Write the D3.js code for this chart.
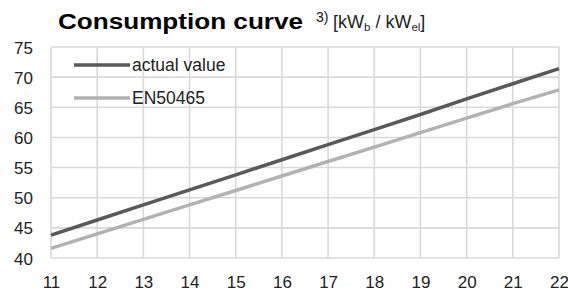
<!doctype html>
<html lang="en">
<head>
<meta charset="UTF-8">
<title>Consumption curve</title>
<style>
  body { margin: 0; background: #fff; }
  svg { display: block; font-family: "Liberation Sans", Arial, sans-serif; }
</style>
</head>
<body>
<svg></svg>
<script src="https://d3js.org/d3.v7.min.js"></script>
<script>
const categories = [11, 12, 13, 14, 15, 16, 17, 18, 19, 20, 21, 22];
const actualValue = [43.8, 46.3, 48.8, 51.3, 53.8, 56.3, 58.8, 61.3, 63.8, 66.4, 68.9, 71.4];
const en50465 = [41.6, 44.0, 46.4, 48.8, 51.2, 53.6, 56.0, 58.4, 60.8, 63.2, 65.6, 67.9];
const yTicks = [40, 45, 50, 55, 60, 65, 70, 75];
const seriesNames = ["actual value", "EN50465"];

const width = 568, height = 291;
const margin = { top: 47, right: 9, bottom: 33, left: 51 };

const svg = d3.select("svg").attr("width", width).attr("height", height);

const x = d3.scaleLinear()
  .domain([categories[0], categories[categories.length - 1]])
  .range([margin.left, width - margin.right]);
const y = d3.scaleLinear()
  .domain([40, 75])
  .range([height - margin.bottom, margin.top]);

// grid
const grid = svg.append("g").attr("stroke", "#d9d9d9").attr("stroke-width", 1.6);
grid.selectAll(".v").data(categories).enter().append("line")
  .attr("x1", d => x(d)).attr("x2", d => x(d))
  .attr("y1", y(75)).attr("y2", y(40));
grid.selectAll(".h").data(yTicks).enter().append("line")
  .attr("x1", x(11)).attr("x2", x(22))
  .attr("y1", d => y(d)).attr("y2", d => y(d));

// axes
const xAxis = svg.append("g")
  .attr("transform", `translate(0,${height - margin.bottom})`)
  .call(d3.axisBottom(x).tickValues(categories).tickSize(0));
const yAxis = svg.append("g")
  .attr("transform", `translate(${margin.left},0)`)
  .call(d3.axisLeft(y).tickValues(yTicks).tickSize(0).tickPadding(18));
[xAxis, yAxis].forEach(a => {
  a.select(".domain").remove();
  a.selectAll("text").attr("font-size", 17).attr("fill", "#222")
    .attr("font-family", "'Liberation Sans', Arial, sans-serif");
});
xAxis.selectAll("text").attr("y", 29.5).attr("dy", 0);
yAxis.selectAll("text").attr("dy", "0.36em");

// lines
const line = vals => d3.line()
  .x((d, i) => x(categories[i]))
  .y(d => y(d))(vals);

svg.append("path").attr("d", line(en50465))
  .attr("fill", "none").attr("stroke", "#b2b2b2").attr("stroke-width", 3.5);
svg.append("path").attr("d", line(actualValue))
  .attr("fill", "none").attr("stroke", "#595959").attr("stroke-width", 3.5);

// legend
const legend = svg.append("g");
const legendColors = ["#595959", "#b2b2b2"];
seriesNames.forEach((name, i) => {
  const ly = 65 + i * 33;
  legend.append("line")
    .attr("x1", 74).attr("x2", 130).attr("y1", ly).attr("y2", ly)
    .attr("stroke", legendColors[i]).attr("stroke-width", 3.5);
  legend.append("text")
    .attr("x", 132).attr("y", ly).attr("dy", "0.36em")
    .attr("font-size", 17.5).attr("fill", "#222").text(name);
});

// title
svg.append("text").attr("x", 58).attr("y", 28.5)
  .attr("font-size", 22).attr("font-weight", "bold").attr("fill", "#000")
  .attr("textLength", 245).attr("lengthAdjust", "spacingAndGlyphs")
  .text("Consumption curve");
svg.append("text").attr("x", 316).attr("y", 22)
  .attr("font-size", 14).attr("fill", "#111").text("3)");
const unit = svg.append("text").attr("x", 333).attr("y", 27.5)
  .attr("font-size", 18).attr("fill", "#222");
unit.append("tspan").text("[kW");
unit.append("tspan").attr("font-size", 11.5).attr("dy", 3).text("b");
unit.append("tspan").attr("dy", -3).text(" / kW");
unit.append("tspan").attr("font-size", 11.5).attr("dy", 3).text("el");
unit.append("tspan").attr("dy", -3).text("]");
</script>
</body>
</html>
